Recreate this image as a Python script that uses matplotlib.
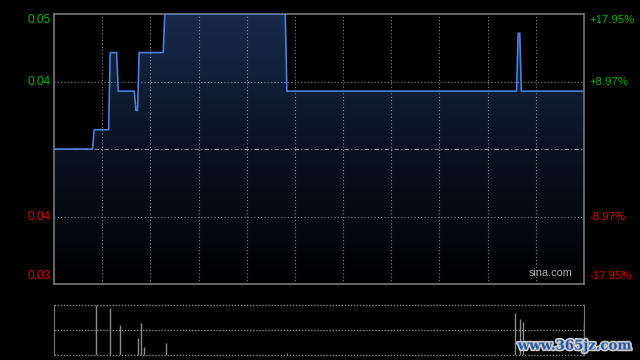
import numpy as np
import matplotlib
matplotlib.use("Agg")
import matplotlib.pyplot as plt
import matplotlib.patheffects as pe
from matplotlib.colors import LinearSegmentedColormap

# price line vertices (minute of the HK session, price)
minutes = [0, 24, 25, 34, 35, 39, 40, 50, 51, 52, 53, 68, 69, 144, 145, 288, 289, 290, 291, 330]
prices = [0.039, 0.039, 0.040, 0.040, 0.044, 0.044, 0.042, 0.042, 0.041, 0.041, 0.044, 0.044,
          0.046, 0.046, 0.042, 0.042, 0.045, 0.045, 0.042, 0.042]
prev_close = 0.039

# volume bars
vol_minutes = [26, 35, 41, 52, 54, 56, 70, 145, 287, 290, 292, 330]
volumes = [1000, 940, 600, 340, 640, 160, 240, 40, 840, 720, 660, 660]

left_labels = ["0.05", "0.04", "0.04", "0.03"]
right_labels = ["+17.95%", "+8.97%", "-8.97%", "-17.95%"]
label_colors = ["#00b400", "#00b400", "#dd0000", "#dd0000"]

plt.rcParams['font.family'] = ['Liberation Sans', 'DejaVu Sans']

fig = plt.figure(figsize=(6.4, 3.6), dpi=100, facecolor="black")
ax = fig.add_axes([54 / 640, 1 - 284 / 360, 530 / 640, 270 / 360])
vax = fig.add_axes([54 / 640, 1 - 355 / 360, 530 / 640, 50.3 / 360])

ymin, ymax = 0.032, 0.046
ax.set_facecolor("black")
ax.set_xlim(0, 330)
ax.set_ylim(ymin, ymax)

# gradient fill under the line
cmap = LinearSegmentedColormap.from_list("fill", ["#000000", "#0a1222", "#182a4a"])
grad = np.linspace(0, 1, 256).reshape(-1, 1)
im = ax.imshow(grad, extent=[0, 330, ymin, ymax], origin="lower", aspect="auto",
               cmap=cmap, zorder=1)
poly = ax.fill_between(minutes, prices, ymin, color="none", lw=0)
im.set_clip_path(poly.get_paths()[0], transform=ax.transData)

# grid
grid_c = "#8a8a8a"
for k in range(1, 11):
    ax.axvline(k * 30, color=grid_c, lw=0.8, ls=(0, (1, 2)), zorder=2)
step = (ymax - ymin) / 4
for k in (1, 3):
    ax.axhline(ymin + k * step, color=grid_c, lw=0.8, ls=(0, (1, 2)), zorder=2)
ax.axhline(prev_close, color=grid_c, lw=0.8, ls=(0, (4, 2, 1, 2)), zorder=2)

ax.plot(minutes, prices, color="#4a80dc", lw=1.2, zorder=3)

for s in ax.spines.values():
    s.set_color("#777777")
    s.set_linewidth(1.2)
ax.set_xticks([])
ax.set_yticks([])

# axis labels
ypos = [ymax - 0.00031, ymin + 3 * step, ymin + step, ymin + 0.00042]
for lab, rlab, c, y in zip(left_labels, right_labels, label_colors, ypos):
    ax.text(-2.0, y, lab, color=c, fontsize=8.6, ha="right", va="center")
    ax.text(333.5, y, rlab, color=c, fontsize=8.2, ha="left", va="center")

ax.text(0.979, 0.022, "sina.com", transform=ax.transAxes, color="#b4b4b4",
        fontsize=7.8, ha="right", va="bottom", zorder=4)

# volume panel
vax.set_facecolor("black")
vax.set_xlim(0, 330)
vax.set_ylim(0, 1000)
vax.vlines(vol_minutes, 0, volumes, color="#8c8c8c", lw=1)
for y in (0, 500, 1000):
    vax.axhline(y, color=grid_c, lw=1, ls=(0, (1, 1.2)), clip_on=False)
for side in ("top", "bottom"):
    vax.spines[side].set_visible(False)
for side in ("left", "right"):
    vax.spines[side].set_color("#777777")
vax.set_xticks([])
vax.set_yticks([])

fig.text(575 / 640, 1 - 346 / 360, "www.365jz.com", color="#2358a8", fontsize=9.6,
         family="DejaVu Serif", weight="bold", ha="center", va="center",
         path_effects=[pe.withStroke(linewidth=2.5, foreground="#c8c8c8")])

fig.savefig("out.png", dpi=100, facecolor="black")
